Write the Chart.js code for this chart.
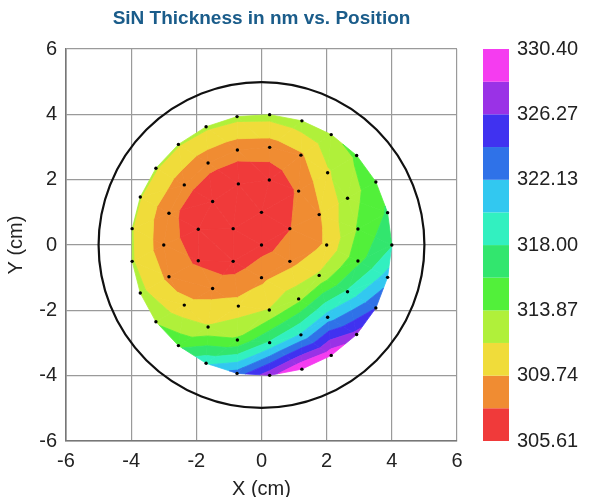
<!DOCTYPE html>
<html>
<head>
<meta charset="utf-8">
<script src="https://cdn.jsdelivr.net/npm/chart.js@4.4.1/dist/chart.umd.min.js"></script>
<style>
  body { margin: 0; background: #fff; }
</style>
</head>
<body>
<canvas id="thicknessMap" width="590" height="497"></canvas>
<script>
// measurement sites on the wafer (cm): centre, then rings at r = 1, 2, 3, 4
const siteX = [
  0,
  0.87, 0, -0.87, -0.87, 0, 0.87,
  2, 1.77, 1.14, 0.24, -0.71, -1.50, -1.94, -1.94, -1.50, -0.71, 0.24, 1.14, 1.77,
  2.96, 2.64, 2.03, 1.21, 0.25, -0.74, -1.64, -2.37, -2.84, -3, -2.84, -2.37, -1.64, -0.74, 0.25, 1.21, 2.03, 2.64, 2.96,
  4, 3.87, 3.51, 2.92, 2.14, 1.24, 0.25, -0.75, -1.70, -2.55, -3.24, -3.72, -3.97, -3.97, -3.72, -3.24, -2.55, -1.70, -0.75, 0.25, 1.24, 2.14, 2.92, 3.51, 3.87
];
const siteY = [
  0,
  0.5, 1, 0.5, -0.5, -1, -0.5,
  0, 0.93, 1.65, 1.99, 1.87, 1.33, 0.48, -0.48, -1.33, -1.87, -1.99, -1.65, -0.93,
  0.49, 1.43, 2.21, 2.75, 2.99, 2.91, 2.51, 1.84, 0.97, 0, -0.97, -1.84, -2.51, -2.91, -2.99, -2.75, -2.21, -1.43, -0.49,
  0, 0.99, 1.93, 2.74, 3.38, 3.80, 3.99, 3.93, 3.62, 3.08, 2.35, 1.47, 0.50, -0.50, -1.47, -2.35, -3.08, -3.62, -3.93, -3.99, -3.80, -3.38, -2.74, -1.93, -0.99
];
// SiN thickness (nm) at each site, same order
const thickness = [
  306.8,
  307.6, 306.0, 305.61, 306.5, 309.2, 309.0,
  310.0, 309.5, 307.9, 306.5, 306.2, 306.0, 306.6, 307.3, 308.8, 310.5, 311.9, 313.2, 312.1,
  314.0, 312.8, 311.5, 309.4, 308.6, 308.4, 308.3, 308.4, 308.2, 308.6, 309.2, 310.2, 312.0, 314.2, 318.3, 320.3, 321.0, 318.3, 315.3,
  317.8, 316.2, 315.0, 314.2, 313.6, 313.0, 312.6, 312.4, 312.2, 312.0, 312.0, 311.9, 311.9, 312.0, 312.4, 313.6, 315.4, 319.6, 323.0, 327.6, 330.4, 329.8, 327.0, 324.2, 321.0
];

const contourLevels = [305.61, 307.68, 309.74, 311.81, 313.87, 315.94, 318.00, 320.07, 322.13, 324.20, 326.27, 328.33, 330.40];
const bandColors = ['#f03a3a', '#f08c32', '#f0dc3a', '#b0f03a', '#52f03a', '#32e66e',
                    '#32f0c0', '#32c8f0', '#2f72e8', '#4032f0', '#9a32e6', '#f53cf0'];
const colorbarTicks = [305.61, 309.74, 313.87, 318.00, 322.13, 326.27, 330.40];
const waferRadius = 5;
const chartTitle = 'SiN Thickness in nm vs. Position';

Chart.defaults.font.family = "'Liberation Sans', Arial, sans-serif";
Chart.defaults.color = '#222';

// Bowyer-Watson, good enough for 64 points
function triangulate(xs, ys) {
  const X = xs.slice(), Y = ys.slice();
  const n = X.length;
  X.push(-100, 100, 0); Y.push(-100, -100, 100);
  let tris = [[n, n + 1, n + 2]];
  const inCircle = (t, i) => {
    const [a, b, c] = t;
    const ax = X[a], ay = Y[a], bx = X[b], by = Y[b], cx = X[c], cy = Y[c];
    const d = 2 * (ax * (by - cy) + bx * (cy - ay) + cx * (ay - by));
    const ux = ((ax * ax + ay * ay) * (by - cy) + (bx * bx + by * by) * (cy - ay) + (cx * cx + cy * cy) * (ay - by)) / d;
    const uy = ((ax * ax + ay * ay) * (cx - bx) + (bx * bx + by * by) * (ax - cx) + (cx * cx + cy * cy) * (bx - ax)) / d;
    const r2 = (ax - ux) ** 2 + (ay - uy) ** 2;
    return (X[i] - ux) ** 2 + (Y[i] - uy) ** 2 < r2 - 1e-9;
  };
  for (let i = 0; i < n; i++) {
    const bad = [], keep = [];
    tris.forEach(t => (inCircle(t, i) ? bad : keep).push(t));
    const edges = [];
    bad.forEach(t => {
      [[t[0], t[1]], [t[1], t[2]], [t[2], t[0]]].forEach(e => {
        const shared = bad.some(o => o !== t && o.includes(e[0]) && o.includes(e[1]));
        if (!shared) edges.push(e);
      });
    });
    tris = keep.concat(edges.map(e => [e[0], e[1], i]));
  }
  return tris.filter(t => t.every(v => v < n));
}

// keep the part of a polygon where sign * (v - level) >= 0
function clipPoly(poly, level, sign) {
  if (!isFinite(level)) return poly;
  const out = [];
  for (let i = 0; i < poly.length; i++) {
    const a = poly[i], b = poly[(i + 1) % poly.length];
    const da = sign * (a.v - level), db = sign * (b.v - level);
    if (da >= 0) out.push(a);
    if ((da >= 0) !== (db >= 0)) {
      const t = da / (da - db);
      out.push({ x: a.x + t * (b.x - a.x), y: a.y + t * (b.y - a.y), v: level });
    }
  }
  return out;
}

const contourPlugin = {
  id: 'contourFill',
  beforeDatasetsDraw(chart) {
    const { ctx, scales: { x, y } } = chart;
    const px = siteX.map(v => x.getPixelForValue(v));
    const py = siteY.map(v => y.getPixelForValue(v));
    const tris = triangulate(siteX, siteY);
    ctx.save();
    tris.forEach(t => {
      const poly = t.map(i => ({ x: px[i], y: py[i], v: thickness[i] }));
      bandColors.forEach((col, b) => {
        const lo = b === 0 ? -Infinity : contourLevels[b];
        const hi = b === bandColors.length - 1 ? Infinity : contourLevels[b + 1];
        const part = clipPoly(clipPoly(poly, lo, 1), hi, -1);
        if (part.length < 3) return;
        ctx.beginPath();
        part.forEach((q, k) => k ? ctx.lineTo(q.x, q.y) : ctx.moveTo(q.x, q.y));
        ctx.closePath();
        ctx.fillStyle = col;
        ctx.strokeStyle = col;
        ctx.lineWidth = 0.8;
        ctx.fill();
        ctx.stroke();
      });
    });

    // wafer edge
    const cx = x.getPixelForValue(0), cy = y.getPixelForValue(0);
    const r = x.getPixelForValue(waferRadius) - cx;
    ctx.beginPath();
    ctx.arc(cx, cy, r, 0, Math.PI * 2);
    ctx.strokeStyle = '#111';
    ctx.lineWidth = 2.2;
    ctx.stroke();
    ctx.restore();
  }
};

// colour bar blocks next to the cb axis + title centred over the plot
const colorbarPlugin = {
  id: 'colorbar',
  afterDraw(chart) {
    const { ctx, chartArea } = chart;
    const cb = chart.scales.cb;
    const left = cb.left + 26, w = 26;
    ctx.save();
    bandColors.forEach((col, b) => {
      const top = cb.getPixelForValue(contourLevels[b + 1]);
      const bottom = cb.getPixelForValue(contourLevels[b]);
      ctx.fillStyle = col;
      ctx.fillRect(left, top, w, bottom - top);
    });
    ctx.font = "bold 19px 'Liberation Sans', Arial, sans-serif";
    ctx.fillStyle = '#1a5c8a';
    ctx.textAlign = 'center';
    ctx.textBaseline = 'middle';
    ctx.fillText(chartTitle, (chartArea.left + chartArea.right) / 2, 19);
    ctx.restore();
  }
};

new Chart(document.getElementById('thicknessMap'), {
  type: 'scatter',
  data: {
    datasets: [{
      label: 'Sites',
      data: siteX.map((v, i) => ({ x: v, y: siteY[i] })),
      backgroundColor: '#000',
      borderWidth: 0,
      pointRadius: 1.7
    }]
  },
  options: {
    responsive: false,
    animation: false,
    layout: { padding: { top: 49, left: 0, right: 0, bottom: 0 }, autoPadding: false },
    plugins: {
      legend: { display: false },
      tooltip: { enabled: false },
      title: { display: false }
    },
    scales: {
      x: {
        type: 'linear', position: 'bottom', min: -6, max: 6,
        ticks: { stepSize: 2, font: { size: 20 }, color: '#222', padding: 8 },
        grid: { color: '#9a9a9a', lineWidth: 1.2, drawTicks: false },
        border: { color: '#777', width: 1.6 },
        title: { display: true, text: 'X (cm)', font: { size: 20 }, color: '#222', padding: { top: 0, bottom: -4 } },
        afterFit(scale) { scale.height = 56; }
      },
      y: {
        type: 'linear', position: 'left', min: -6, max: 6,
        ticks: { stepSize: 2, font: { size: 20 }, color: '#222', padding: 9 },
        grid: { color: '#9a9a9a', lineWidth: 1.2, drawTicks: false },
        border: { color: '#777', width: 1.6 },
        title: { display: true, text: 'Y (cm)', font: { size: 20 }, color: '#222', padding: { top: 4, bottom: 0 } },
        afterFit(scale) { scale.width = 66; }
      },
      cb: {
        type: 'linear', position: 'right',
        min: contourLevels[0], max: contourLevels[contourLevels.length - 1],
        afterBuildTicks(scale) { scale.ticks = colorbarTicks.map(v => ({ value: v })); },
        ticks: { font: { size: 20 }, color: '#222', padding: 2, callback: v => v.toFixed(2) },
        grid: { display: true, drawOnChartArea: false, drawTicks: true, tickLength: 58, color: 'rgba(0,0,0,0)' },
        border: { display: false },
        afterFit(scale) { scale.width = 133; }
      }
    }
  },
  plugins: [contourPlugin, colorbarPlugin]
});
</script>
</body>
</html>
